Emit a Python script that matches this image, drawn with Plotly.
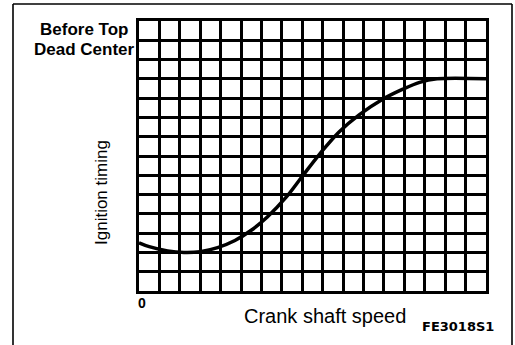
import plotly.graph_objects as go

# Ignition advance curve, in grid units (17 columns of crank speed, 14 rows of timing)
crank_speed = [0, 0.5, 1.4, 2.2, 3.0, 3.85, 4.7, 5.5, 6.3, 7.2, 8.0, 8.85, 9.8, 10.8,
               11.9, 12.9, 13.75, 14.6, 17]
ignition_timing = [2.5, 2.3, 2.08, 2.0, 2.04, 2.25, 2.62, 3.15, 3.85, 4.85, 5.95, 7.1,
                   8.25, 9.15, 9.92, 10.45, 10.82, 11.0, 11.0]

grid_cols = 17
grid_rows = 14

W, H = 515, 345
L, R, T, B = 139, 29, 21, 54
pw, ph = W - L - R, H - T - B


def px(x):
    return (x - L) / pw


def py(y):
    return (H - B - y) / ph


fig = go.Figure()
fig.add_trace(go.Scatter(
    x=crank_speed, y=ignition_timing, mode="lines",
    line=dict(color="black", width=3.5, shape="spline", smoothing=1.0),
    hoverinfo="skip", showlegend=False,
))

axis_common = dict(
    showgrid=True, gridcolor="black", gridwidth=2.7,
    showline=True, linecolor="black", linewidth=3.2, mirror=True,
    zeroline=False, showticklabels=False, ticks="", dtick=1,
    fixedrange=True,
)
fig.update_xaxes(range=[0, grid_cols], **axis_common)
fig.update_yaxes(range=[0, grid_rows], **axis_common)

bold = dict(family="Liberation Sans, Arial, sans-serif", size=17, color="black", weight="bold")
regular = dict(family="Liberation Sans, Arial, sans-serif", color="black")

annotations = [
    dict(text="Before Top", x=px(84), y=py(29), font=bold),
    dict(text="Dead Center", x=px(84), y=py(49), font=bold),
    dict(text="Ignition timing", x=px(101), y=py(193), textangle=-90,
         font=dict(size=17, **regular)),
    dict(text="0", x=px(141.5), y=py(302.5),
         font=dict(family="Liberation Sans, Arial, sans-serif", size=14,
                   color="black", weight="bold")),
    dict(text="Crank shaft speed", x=px(325), y=py(316),
         font=dict(size=20, **regular)),
    dict(text="FE3018S1", x=px(458), y=py(326.5),
         font=dict(family="DejaVu Sans", size=13, color="black", weight="bold")),
]
for a in annotations:
    a.update(xref="paper", yref="paper", showarrow=False,
             xanchor="center", yanchor="middle")

# Frame around the figure: left, top and right edges
frame = [
    (px(13), py(4), px(13), py(345)),
    (px(13), py(4), px(512), py(4)),
    (px(512), py(4), px(512), py(345)),
]
shapes = [
    dict(type="line", xref="paper", yref="paper", x0=x0, y0=y0, x1=x1, y1=y1,
         line=dict(color="black", width=1.6))
    for x0, y0, x1, y1 in frame
]

fig.update_layout(
    width=W, height=H,
    margin=dict(l=L, r=R, t=T, b=B),
    paper_bgcolor="white", plot_bgcolor="white",
    annotations=annotations, shapes=shapes,
    showlegend=False,
)

fig.write_html("out.html", config={"displayModeBar": False})
